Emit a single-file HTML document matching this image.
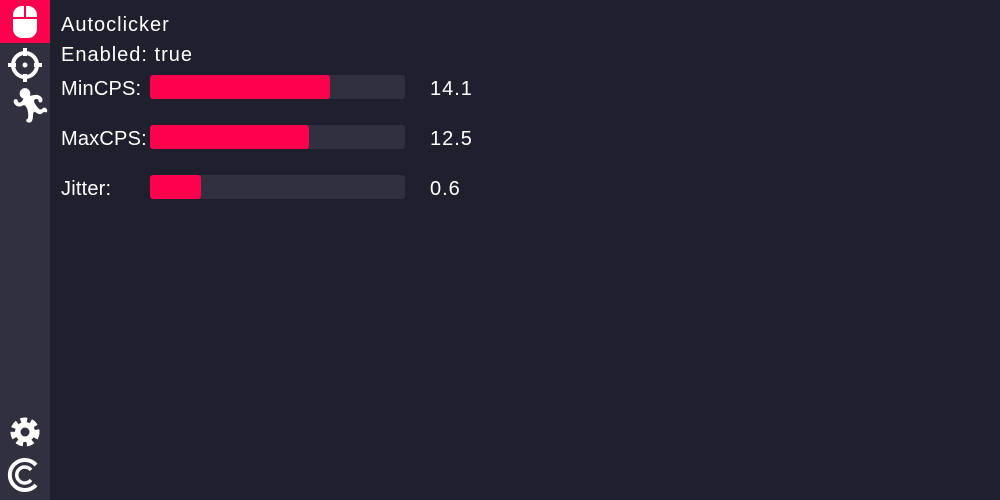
<!DOCTYPE html>
<html><head><meta charset="utf-8"><style>
body{margin:0;width:1000px;height:500px;background:#1f1f2e;font-family:"Liberation Sans",sans-serif;color:#fff;position:relative;overflow:hidden}
.side{position:absolute;left:0;top:0;width:50px;height:500px;background:#30303f}
.t{position:absolute;font-size:20px;line-height:24px;white-space:nowrap;letter-spacing:1px}
.r{letter-spacing:0.2px}
.track{position:absolute;left:150px;width:255px;height:24px;background:#30303f;border-radius:3px}
.fill{position:absolute;left:0;top:0;height:24px;background:#ff004f;border-radius:3px}
</style></head><body>
<div class="side">
<div style="position:absolute;left:0;top:0;width:50px;height:43px;background:#ff004f">
<svg width="50" height="43"><rect x="13" y="6" width="24" height="32" rx="9" fill="#fff"/><rect x="24" y="6" width="2" height="12" fill="#ff004f"/><rect x="13" y="17" width="24" height="2" fill="#ff004f"/></svg></div>
<svg style="position:absolute;left:0;top:45px" width="50" height="40"><circle cx="25" cy="20" r="12" stroke="#fff" stroke-width="4" fill="none"/><rect x="23" y="3" width="4" height="8" fill="#fff"/><rect x="23" y="29" width="4" height="8" fill="#fff"/><rect x="8" y="18" width="8" height="4" fill="#fff"/><rect x="34" y="18" width="8" height="4" fill="#fff"/><circle cx="25" cy="20" r="2.5" fill="#fff"/></svg>
<div style="position:absolute;left:9px;top:86px;font-size:34px;line-height:40px">🏃︎</div>
<svg style="position:absolute;left:7px;top:414px" width="36" height="36"><circle cx="18" cy="18" r="11" fill="none" stroke="#fff" stroke-width="7" stroke-dasharray="6 3.5"/><circle cx="18" cy="18" r="10" fill="#fff"/><circle cx="18" cy="18" r="4.5" fill="#30303f"/></svg>
<svg style="position:absolute;left:6px;top:457px" width="36" height="36"><path d="M30 8 A15 15 0 1 0 30 28" stroke="#fff" stroke-width="4" fill="none"/><path d="M25 13 A8 8 0 1 0 25 23" stroke="#fff" stroke-width="3.5" fill="none"/></svg>
</div>
<div class="t" style="left:61px;top:13px">Autoclicker</div>
<div class="t" style="left:61px;top:43px">Enabled: true</div>
<div id="rows"></div>
<script>
const labels=["MinCPS:","MaxCPS:","Jitter:"];
const values=[14.1,12.5,0.6];
const maxes=[20,20,3];
const texts=["14.1","12.5","0.6"];
const root=document.getElementById('rows');
labels.forEach((l,i)=>{
 const y=75+i*50;
 const lab=document.createElement('div');lab.className='t r';lab.style.left='61px';lab.style.top=(y+2)+'px';lab.textContent=l;
 
 
 const tr=document.createElement('div');tr.className='track';tr.style.top=y+'px';
 
 
 const f=document.createElement('div');f.className='fill';f.style.width=(255*values[i]/maxes[i])+'px';
 
 
 tr.appendChild(f);
 const v=document.createElement('div');v.className='t';v.style.left='430px';v.style.top=(y+2)+'px';v.textContent=texts[i];
 
 
 root.append(lab,tr,v);
});
</script>
</body></html>
